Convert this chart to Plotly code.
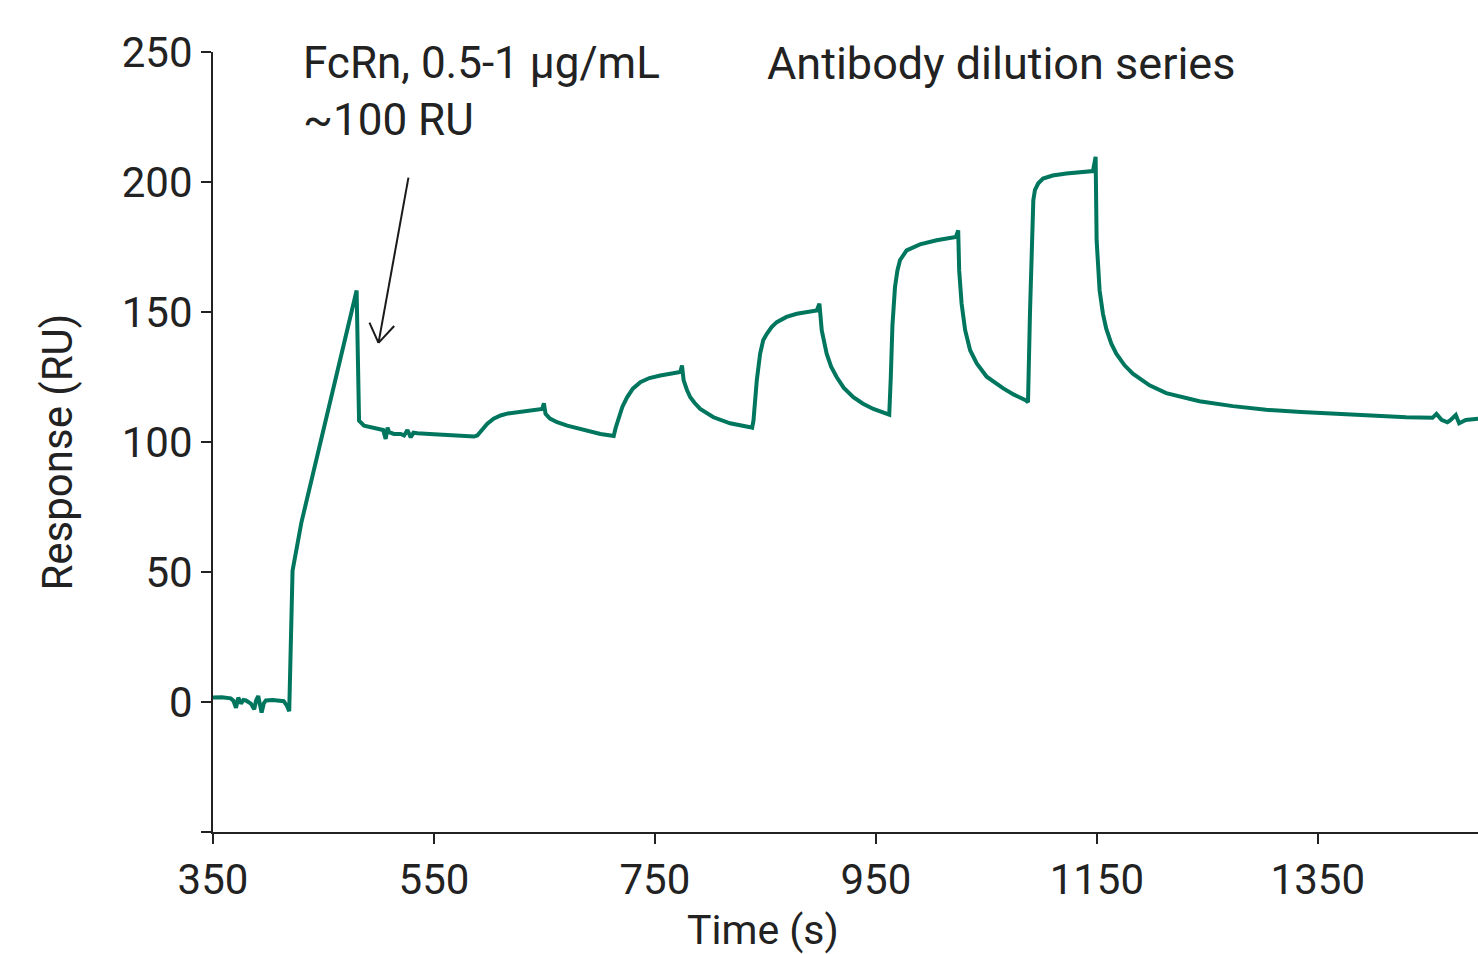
import plotly.graph_objects as go

# Time (s) and response (RU)
time_s = [
    350, 358, 366, 368.5, 370.8, 372.9, 375.3, 377.5, 379.8, 382, 384.3, 387.3, 389, 390.9,
    392.5, 394, 396, 397.9, 404, 409.9, 414, 417, 419, 422, 426, 430, 480,
    480.9, 482.2, 486.7, 495, 501.8, 504, 506.3, 508, 509.3, 513.8, 519.9, 523, 526, 529,
    531.5, 535, 550, 570, 586.2, 589.2,
    593, 598.3, 604, 610.3, 617, 625.4, 636, 648, 649.5, 651, 655, 661.5, 670.6, 685.6,
    700.7, 710, 712.7,
    714.5, 717.2, 720.5, 724.8, 730, 736.8, 745, 754.9, 765, 773, 774.5, 776, 779, 782, 786,
    791, 803, 818, 836.2, 838,
    839.2, 841, 842.2, 845.2, 848, 851.3, 855.6, 860.3, 869.1, 878.4, 896.5, 898.9, 899.8, 901,
    905.5, 909.5, 914.6, 921, 929.6, 938, 947.7, 962.1,
    963.5, 965, 967.3, 969.5, 971.8, 977.8, 989.9, 1005, 1022.4, 1024.5, 1025.4, 1027.6,
    1030.8, 1035.3, 1041.3, 1050.3, 1065.3, 1075, 1085.9, 1087.7,
    1089.5, 1091, 1092.5, 1094, 1097, 1101.3, 1110, 1122.4, 1135, 1146.5, 1148.9, 1149.8,
    1152.5, 1155.5, 1158.5, 1163.1, 1167.6, 1175.1, 1182.6, 1197.7, 1212.8, 1227.8, 1242.9,
    1273, 1303.2, 1335, 1363.1, 1405.6, 1430, 1453.8, 1457.4, 1462, 1467.3, 1470, 1474.9,
    1477.9, 1483.9, 1495,
]
response_ru = [
    1.7, 1.8, 1.4, 0.5, -2.2, 1.7, -0.6, 0.8, 0.6, -0.2, -0.6, -2.8, 0.5, 2.3,
    -1.5, -4.1, -0.5, 0.6, 0.8, 0.6, 0.3, -1.5, -3.5, 50.5, 60, 69, 158.3,
    130, 108.2, 106.3, 105.5, 105, 104.6, 101.2, 105.5, 103.8, 103.1, 103.1, 102.5, 104.6, 101.8,
    103.6, 103.4, 103, 102.6, 102.1, 102.5,
    104.5, 107, 109, 110.2, 111, 111.4, 112.2, 112.7, 114.9, 110.8, 109, 107.6, 106.3, 104.6,
    103.1, 102.5, 102.3,
    105.5, 109.5, 113.5, 117.2, 120.5, 123, 124.6, 125.6, 126.4, 126.9, 129.4, 123.7, 120, 117.2, 115,
    112.7, 109.5, 107.2, 105.7, 105.5,
    108.2, 117, 123.7, 133.9, 139.1, 141.6, 144.2, 146.1, 148.1, 149.3, 150.6, 153.2, 148, 142.9,
    133.9, 129, 124.9, 120.8, 117.2, 114.8, 112.7, 110.5,
    125, 145, 159.6, 166, 169.9, 173.7, 176, 177.6, 178.9, 181.4, 166, 153.2,
    143, 135.3, 130.2, 125.1, 120.6, 118.2, 116, 115.3,
    150, 180, 193, 197, 199.5, 201.3, 202.5, 203.3, 203.8, 204.2, 209.7, 177.6,
    158.3, 149.4, 143.6, 137.8, 134, 129.5, 126.3, 121.8, 118.8, 117.1, 115.7,
    113.8, 112.4, 111.5, 110.8, 110, 109.5, 109.3, 110.8, 108.5, 107.6, 108.4, 110.4,
    107.2, 108.5, 108.9,
]

x_ticks = [350, 550, 750, 950, 1150, 1350]
y_ticks = [-50, 0, 50, 100, 150, 200, 250]
y_ticklabels = ["", "0", "50", "100", "150", "200", "250"]

FONT = "Roboto, 'Noto Sans', sans-serif"
INK = "#222222"

fig = go.Figure()
fig.add_trace(go.Scatter(
    x=time_s, y=response_ru, mode="lines",
    line=dict(color="#00765E", width=4),
    showlegend=False, hoverinfo="skip",
))

axis_common = dict(
    showline=True, linecolor=INK, linewidth=2,
    ticks="outside", ticklen=10, tickwidth=2, tickcolor=INK,
    showgrid=False, zeroline=False,
    tickfont=dict(family=FONT, size=42, color=INK),
)

fig.update_layout(
    width=1478, height=954,
    margin=dict(l=213, r=0, t=52, b=122),
    paper_bgcolor="white", plot_bgcolor="white",
    xaxis=dict(range=[350, 1495], tickmode="array", tickvals=x_ticks, **axis_common),
    yaxis=dict(range=[-50, 250], tickmode="array", tickvals=y_ticks,
               ticktext=y_ticklabels, **axis_common),
    font=dict(family=FONT, color=INK),
)

annotations = [
    dict(text="Time (s)", x=0.4349, y=-0.125, xref="paper", yref="paper",
         xanchor="center", yanchor="middle", showarrow=False,
         font=dict(family=FONT, size=41, color=INK)),
    dict(text="Response (RU)", x=-0.1231, y=0.4868, xref="paper", yref="paper",
         xanchor="center", yanchor="middle", textangle=-90, showarrow=False,
         font=dict(family=FONT, size=42, color=INK)),
    dict(text="FcRn, 0.5-1 µg/mL", x=0.0698, y=0.9855, xref="paper", yref="paper",
         xanchor="left", yanchor="middle", showarrow=False,
         font=dict(family=FONT, size=44, color=INK)),
    dict(text="~100 RU", x=0.0698, y=0.9124, xref="paper", yref="paper",
         xanchor="left", yanchor="middle", showarrow=False,
         font=dict(family=FONT, size=44, color=INK)),
    dict(text="Antibody dilution series", x=0.4362, y=0.9855, xref="paper", yref="paper",
         xanchor="left", yanchor="middle", showarrow=False,
         font=dict(family=FONT, size=45, color=INK)),
]
fig.update_layout(annotations=annotations)

# Arrow (shaft + open head) pointing at the FcRn capture level
arrow_style = dict(type="line", xref="x", yref="y", line=dict(color="#1a1a1a", width=2))
fig.add_shape(x0=526.9, y0=201.7, x1=499.8, y1=138.1, **arrow_style)
fig.add_shape(x0=491.6, y0=145.9, x1=499.8, y1=138.1, **arrow_style)
fig.add_shape(x0=514.0, y0=144.6, x1=499.8, y1=138.1, **arrow_style)

fig.write_html(
    "out.html",
    config={"displayModeBar": False},
    post_script="document.body.style.margin='0';document.body.style.overflow='hidden';",
)
